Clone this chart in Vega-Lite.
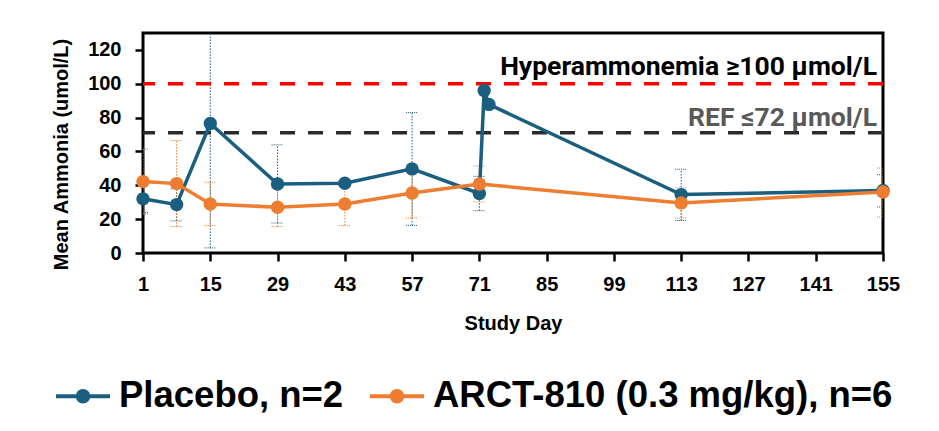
{
  "$schema": "https://vega.github.io/schema/vega-lite/v6.json",
  "width": 740,
  "height": 220,
  "autosize": {"type": "none"},
  "padding": {"left": 143, "top": 33, "right": 56, "bottom": 178},
  "background": "white",
  "config": {
    "view": {"stroke": "black", "strokeWidth": 3},
    "font": "Liberation Sans",
    "axis": {
      "labelFont": "Liberation Sans", "labelFontWeight": "bold", "labelFontSize": 20, "labelColor": "black",
      "titleFont": "Liberation Sans", "titleFontWeight": "bold", "titleFontSize": 20, "titleColor": "black",
      "tickColor": "black", "tickWidth": 2.5, "tickSize": 8, "domain": false, "grid": false, "labelOverlap": false
    },
    "axisY": {"labelOverlap": false}
  },
  "datasets": {
    "ammonia": [
      {"series": "Placebo, n=2", "day": 1, "mean": 32, "low": 24, "high": 40},
      {"series": "Placebo, n=2", "day": 8, "mean": 28.6, "low": 19, "high": 38},
      {"series": "Placebo, n=2", "day": 15, "mean": 76.5, "low": 3, "high": 150},
      {"series": "Placebo, n=2", "day": 29, "mean": 40.8, "low": 17.7, "high": 63.9},
      {"series": "Placebo, n=2", "day": 43, "mean": 41.2, "low": null, "high": null},
      {"series": "Placebo, n=2", "day": 57, "mean": 49.7, "low": 16.3, "high": 83},
      {"series": "Placebo, n=2", "day": 71, "mean": 35.2, "low": 25, "high": 45.3},
      {"series": "Placebo, n=2", "day": 72, "mean": 96, "low": null, "high": null},
      {"series": "Placebo, n=2", "day": 73, "mean": 87.8, "low": null, "high": null},
      {"series": "Placebo, n=2", "day": 113, "mean": 34.5, "low": 19.2, "high": 49.5},
      {"series": "Placebo, n=2", "day": 155, "mean": 36.9, "low": 27.2, "high": 46.3},
      {"series": "ARCT-810 (0.3 mg/kg), n=6", "day": 1, "mean": 42.2, "low": 23, "high": 61.4},
      {"series": "ARCT-810 (0.3 mg/kg), n=6", "day": 8, "mean": 41, "low": 15.6, "high": 66.4},
      {"series": "ARCT-810 (0.3 mg/kg), n=6", "day": 15, "mean": 29, "low": 16.2, "high": 41.8},
      {"series": "ARCT-810 (0.3 mg/kg), n=6", "day": 29, "mean": 27, "low": 15.6, "high": 38.4},
      {"series": "ARCT-810 (0.3 mg/kg), n=6", "day": 43, "mean": 29, "low": 16.2, "high": 41.8},
      {"series": "ARCT-810 (0.3 mg/kg), n=6", "day": 57, "mean": 35.5, "low": 20.7, "high": 50.3},
      {"series": "ARCT-810 (0.3 mg/kg), n=6", "day": 71, "mean": 40.8, "low": 30.2, "high": 51.4},
      {"series": "ARCT-810 (0.3 mg/kg), n=6", "day": 113, "mean": 29.6, "low": 20.7, "high": 38.5},
      {"series": "ARCT-810 (0.3 mg/kg), n=6", "day": 155, "mean": 36, "low": 21.3, "high": 50.2}
    ],
    "thresholds": [
      {"level": 100, "label": "Hyperammonemia ≥100 μmol/L"},
      {"level": 71, "label": "REF ≤72 μmol/L"}
    ]
  },
  "data": {"name": "ammonia"},
  "encoding": {
    "x": {
      "field": "day", "type": "quantitative", "title": "Study Day",
      "scale": {"domain": [1, 155], "nice": false, "zero": false},
      "axis": {"values": [1, 15, 29, 43, 57, 71, 85, 99, 113, 127, 141, 155], "labelPadding": 13, "labelFlush": false, "labelOverlap": false, "titleX": 370, "titleY": 76, "titleBaseline": "alphabetic"}
    },
    "y": {
      "field": "mean", "type": "quantitative", "title": "Mean Ammonia (umol/L)",
      "scale": {"domain": [0, 130], "nice": false},
      "axis": {"values": [0, 20, 40, 60, 80, 100, 120], "labelOverlap": false, "labelPadding": 14, "titleX": -76, "titleY": 121, "titleAngle": -90, "titleBaseline": "alphabetic", "titleAlign": "center"}
    },
    "color": {"field": "series", "type": "nominal",
      "scale": {"domain": ["Placebo, n=2", "ARCT-810 (0.3 mg/kg), n=6"], "range": ["#1A5F7F", "#ED7D31"]},
      "legend": {
        "orient": "none", "legendX": -89, "legendY": 334, "direction": "horizontal", "title": null,
        "symbolType": "M-1,0L1,0M0.2,0A0.2,0.2,0,1,1,-0.2,0A0.2,0.2,0,1,1,0.2,0Z",
        "symbolSize": 2916, "symbolStrokeWidth": 3.8,
        "labelFont": "Liberation Sans", "labelFontSize": 36.5, "labelFontWeight": "bold", "labelColor": "black",
        "labelOffset": 7, "columnPadding": 18, "labelLimit": 1000,
        "encode": {"symbols": {"update": {"fill": {"scale": "color", "field": "value"}, "stroke": {"scale": "color", "field": "value"}, "opacity": {"value": 1}}}}
      }
    }
  },
  "layer": [
    {
      "transform": [{"filter": "isValid(datum.low)"}],
      "mark": {"type": "rule", "strokeWidth": 1, "strokeDash": [1.5, 1.5], "clip": true},
      "encoding": {
        "y": {"field": "low", "type": "quantitative"},
        "y2": {"field": "high"}
      }
    },
    {
      "transform": [{"filter": "isValid(datum.low)"}],
      "mark": {"type": "rule", "strokeWidth": 1, "strokeDash": [1, 1], "xOffset": -6, "x2Offset": 6, "clip": true},
      "encoding": {
        "x2": {"field": "day"},
        "y": {"field": "low", "type": "quantitative"}
      }
    },
    {
      "transform": [{"filter": "isValid(datum.high)"}],
      "mark": {"type": "rule", "strokeWidth": 1, "strokeDash": [1, 1], "xOffset": -6, "x2Offset": 6, "clip": true},
      "encoding": {
        "x2": {"field": "day"},
        "y": {"field": "high", "type": "quantitative"}
      }
    },
    {
      "data": {"name": "thresholds"},
      "mark": {"type": "rule", "strokeWidth": 3.5, "strokeDash": [15, 13]},
      "encoding": {
        "x": null,
        "color": null,
        "y": {"field": "level", "type": "quantitative"},
        "stroke": {"field": "label", "type": "nominal", "legend": null,
                   "scale": {"domain": ["Hyperammonemia ≥100 μmol/L", "REF ≤72 μmol/L"], "range": ["#FF0000", "#2B2B2B"]}}
      }
    },
    {
      "transform": [{"filter": "datum.series === 'Placebo, n=2'"}],
      "mark": {"type": "line", "strokeWidth": 3.5, "point": {"filled": true, "size": 180, "opacity": 1}},
      "encoding": {"order": {"field": "day"}}
    },
    {
      "transform": [{"filter": "datum.series !== 'Placebo, n=2'"}],
      "mark": {"type": "line", "strokeWidth": 3.5, "point": {"filled": true, "size": 180, "opacity": 1}},
      "encoding": {"order": {"field": "day"}}
    },
    {
      "transform": [{"filter": "datum.series === 'Placebo, n=2' && datum.day === 155"}],
      "mark": {"type": "text", "font": "Roboto", "fontWeight": "bold", "fontSize": 26.5, "color": "black", "align": "right", "baseline": "alphabetic", "dx": -6, "dy": -9},
      "encoding": {"x": {"datum": 155}, "y": {"datum": 100}, "color": null, "text": {"value": "Hyperammonemia ≥100 μmol/L"}}
    },
    {
      "transform": [{"filter": "datum.series === 'Placebo, n=2' && datum.day === 155"}],
      "mark": {"type": "text", "font": "Roboto", "fontWeight": "bold", "fontSize": 26.5, "color": "#595959", "align": "right", "baseline": "alphabetic", "dx": -6, "dy": -7},
      "encoding": {"x": {"datum": 155}, "y": {"datum": 71}, "color": null, "text": {"value": "REF ≤72 μmol/L"}}
    }
  ]
}
